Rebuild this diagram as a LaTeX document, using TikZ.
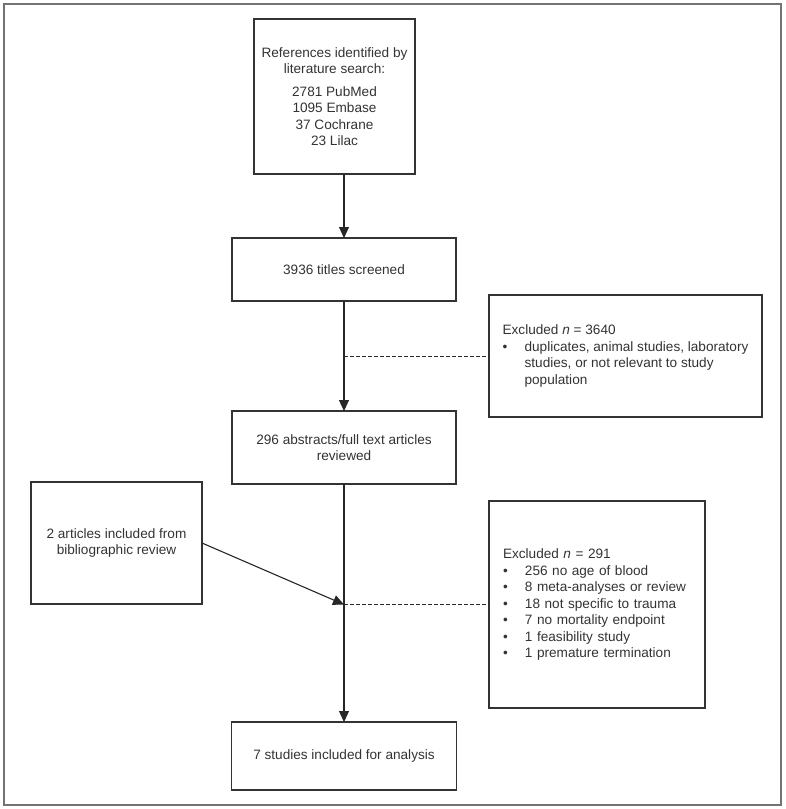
\documentclass[tikz,border=0pt]{standalone}
\usepackage{fontspec}
\setmainfont{Liberation Sans}
\usetikzlibrary{arrows.meta}

\newcommand{\exitem}{\makebox[22pt][l]{\textbullet}}
\newcommand{\exindent}{\hspace*{22pt}}

\tikzset{
  box/.style={draw=black!80, line width=1.2pt, rectangle, inner sep=0pt, outer sep=0pt,
    text=black!80, align=center, font=\fontsize{13.6}{16.5}\selectfont},
  exclbox/.style={box, align=left, inner xsep=14pt},
  flow/.style={black!85, line width=1.1pt, -{Triangle[length=11pt,width=10pt]}},
  sideline/.style={black!85, line width=1pt, dash pattern=on 4pt off 2pt},
}

\begin{document}
\begin{tikzpicture}[x=1pt, y=-1pt]

\useasboundingbox (0,0) rectangle (786,809);

% Frame
\draw[black!55, line width=1.4pt] (4,4) rectangle (781,805);

% Main column
\node[box, minimum width=161pt, minimum height=155pt] (refs) at (334.5,96.5)
  {References identified by\\literature search:\\[6pt]2781 PubMed\\1095 Embase\\37 Cochrane\\23 Lilac};
\node[box, minimum width=224pt, minimum height=63pt] (screen) at (344,269.5) {3936 titles screened};
\node[box, minimum width=224pt, minimum height=73pt] (abstracts) at (344,447.5)
  {296 abstracts/full text articles\\reviewed};
\node[box, minimum width=225pt, minimum height=68pt] (final) at (344,756) {7 studies included for analysis};

% Side boxes
\node[box, align=left, minimum width=273pt, minimum height=122pt] (excl1) at (625.5,356)
  {Excluded \textit{n} = 3640\\
   \exitem duplicates, animal studies, laboratory\\
   \exindent studies, or not relevant to study\\
   \exindent population};
\node[box, minimum width=171pt, minimum height=122pt] (biblio) at (116.5,543)
  {2 articles included from\\bibliographic review};
\node[exclbox, text width=188pt, minimum height=207pt] (excl2) at (597,604.5)
  {Excluded \textit{n} = 291\\
   \exitem 256 no age of blood\\
   \exitem 8 meta-analyses or review\\
   \exitem 18 not specific to trauma\\
   \exitem 7 no mortality endpoint\\
   \exitem 1 feasibility study\\
   \exitem 1 premature termination};

% Junctions
\coordinate (j1) at (screen.south |- excl1.west);
\coordinate (j2) at (final.north |- excl2.west);

% Connectors
\draw[flow] (refs.south -| screen.north) -- (screen.north);
\draw[flow] (screen.south) -- (abstracts.north);
\draw[flow] (abstracts.south) -- (final.north);
\draw[flow] (biblio.east) -- (j2);
\draw[sideline] (j1) -- (excl1.west);
\draw[sideline] (j2) -- (excl2.west);

\end{tikzpicture}
\end{document}
